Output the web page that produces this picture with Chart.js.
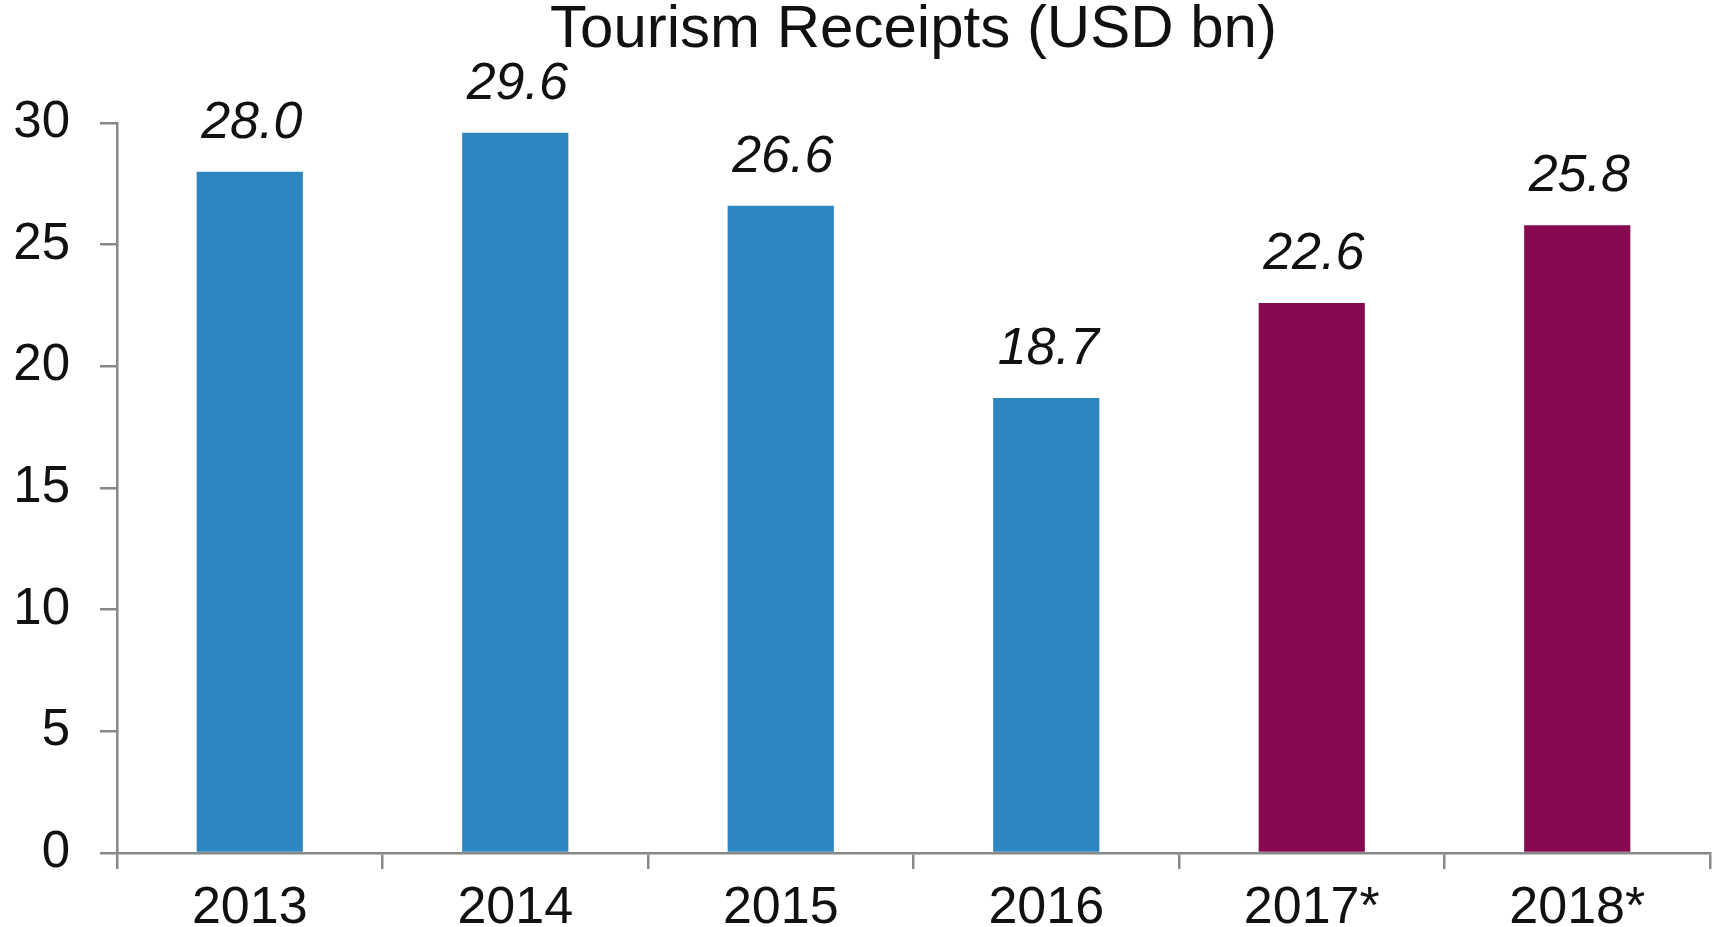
<!DOCTYPE html>
<html>
<head>
<meta charset="utf-8">
<script src="https://cdn.jsdelivr.net/npm/chart.js@4/dist/chart.umd.min.js"></script>
<style>
html,body{margin:0;padding:0;background:#fff;}
#wrap{width:1719px;height:927px;}
</style>
</head>
<body>
<div id="wrap"><canvas id="c" width="1719" height="927"></canvas></div>
<script>
const categories = ["2013", "2014", "2015", "2016", "2017*", "2018*"];
const receipts = [28.0, 29.6, 26.6, 18.7, 22.6, 25.8];
const barColors = ["#2E86C1", "#2E86C1", "#2E86C1", "#2E86C1", "#870A50", "#870A50"];
const yTicks = [0, 5, 10, 15, 20, 25, 30];
const titleText = "Tourism Receipts (USD bn)";

const FONT = "'Liberation Sans', Arial, sans-serif";
const AXIS = "#888888";

const valueLabels = {
  id: 'valueLabels',
  afterDatasetsDraw(chart) {
    const ctx = chart.ctx;
    const meta = chart.getDatasetMeta(0);
    ctx.save();
    ctx.font = "italic 52px " + FONT;
    ctx.fillStyle = "#111";
    ctx.textAlign = "center";
    ctx.textBaseline = "alphabetic";
    meta.data.forEach((bar, i) => {
      ctx.fillText(receipts[i].toFixed(1), bar.x + 2, bar.y - 34);
    });
    ctx.restore();
  }
};

new Chart(document.getElementById('c'), {
  type: 'bar',
  data: {
    labels: categories,
    datasets: [{
      data: receipts,
      backgroundColor: barColors,
      barPercentage: 0.8,
      categoryPercentage: 0.5
    }]
  },
  options: {
    responsive: false,
    animation: false,
    layout: { padding: { left: 0, right: 9, top: 0, bottom: 0 } },
    plugins: {
      legend: { display: false },
      tooltip: { enabled: false },
      title: {
        display: true,
        fullSize: false,
        text: titleText,
        color: "#111",
        font: { family: FONT, size: 60, weight: 'normal', lineHeight: 1.0 },
        padding: { top: 0, bottom: 63 }
      }
    },
    scales: {
      x: {
        grid: { display: true, drawOnChartArea: false, drawTicks: true, tickLength: 16, color: AXIS, lineWidth: 2.5, offset: true },
        border: { display: true, color: AXIS, width: 2.5 },
        ticks: { color: "#111", font: { family: FONT, size: 52 }, padding: 8, maxRotation: 0 },
        afterFit(scale) { scale.height = 74; }
      },
      y: {
        min: 0, max: 30,
        afterBuildTicks(scale) { scale.ticks = yTicks.map(v => ({ value: v })); },
        grid: { display: true, drawOnChartArea: false, drawTicks: true, tickLength: 17, color: AXIS, lineWidth: 2.5 },
        border: { display: true, color: AXIS, width: 2.5 },
        ticks: { color: "#111", font: { family: FONT, size: 51 }, padding: 30 },
        afterFit(scale) { scale.width = 117; }
      }
    }
  },
  plugins: [valueLabels]
});
</script>
</body>
</html>
